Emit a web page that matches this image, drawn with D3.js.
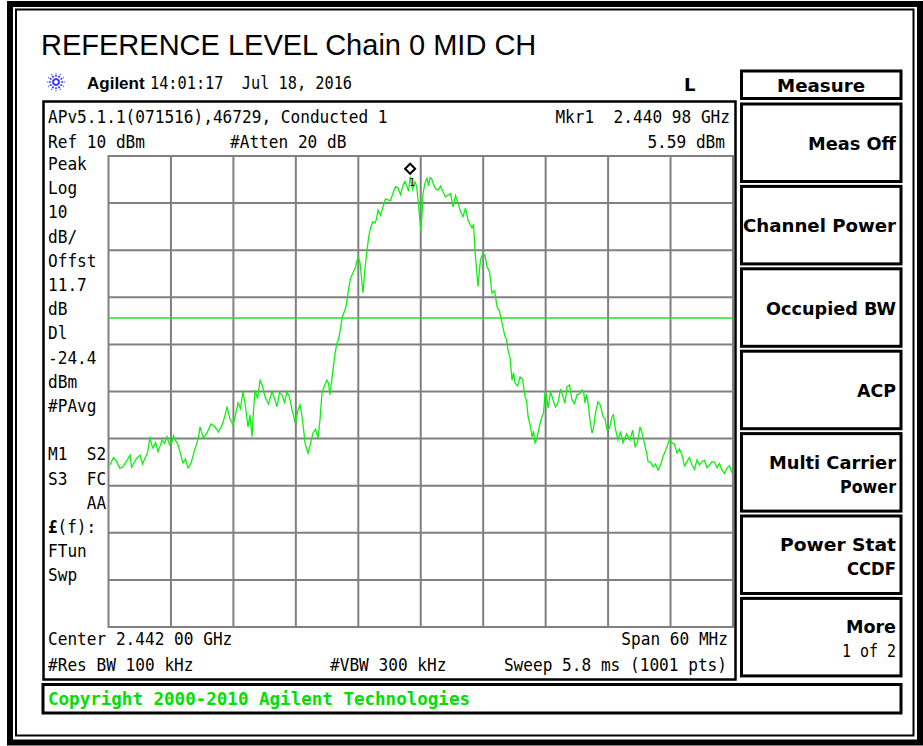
<!DOCTYPE html>
<html>
<head>
<meta charset="utf-8">
<script src="https://cdn.jsdelivr.net/npm/d3@7"></script>
<style>
  body { margin: 0; background: #fff; }
  svg { display: block; }
  .mono { font-family: 'DejaVu Sans Mono', monospace; font-size: 17px; fill: #000; }
  .key { font-family: 'DejaVu Sans', sans-serif; font-weight: bold; font-size: 18px; fill: #000; }
</style>
</head>
<body>
<svg></svg>
<script>
// trace: offset from center (MHz) and level (dBm)
const freqOffsetMHz = [
  -29.86,-29.53,-29.21,-28.91,-28.61,-28.27,-27.93,-27.79,-27.65,-27.31,
  -26.97,-26.73,-26.49,-26.25,-26.01,-25.87,-25.72,-25.48,-25.24,-25.05,
  -24.86,-24.62,-24.38,-24.14,-23.90,-23.76,-23.61,-23.37,-23.13,-22.99,
  -22.84,-22.60,-22.36,-22.17,-21.98,-21.74,-21.50,-21.36,-21.21,-20.88,
  -20.54,-20.16,-19.77,-19.43,-19.09,-18.85,-18.61,-18.33,-18.04,-17.80,
  -17.56,-17.32,-17.08,-16.84,-16.60,-16.41,-16.21,-16.07,-15.92,-15.68,
  -15.44,-15.20,-14.96,-14.63,-14.29,-14.05,-13.81,-13.57,-13.33,-13.09,
  -12.85,-12.61,-12.37,-12.23,-12.08,-11.94,-11.79,-11.60,-11.41,-11.27,
  -11.12,-10.98,-10.83,-10.59,-10.35,-10.11,-9.87,-9.68,-9.49,-9.25,
  -9.01,-8.87,-8.72,-8.58,-8.43,-8.24,-8.05,-7.91,-7.76,-7.52,
  -7.28,-7.14,-6.99,-6.75,-6.51,-6.27,-6.03,-5.84,-5.64,-5.55,
  -5.36,-5.16,-5.02,-4.87,-4.63,-4.39,-4.25,-4.11,-3.87,-3.63,
  -3.39,-3.15,-2.91,-2.67,-2.43,-2.18,-1.94,-1.70,-1.51,-1.32,
  -1.17,-1.02,-0.79,-0.55,-0.40,-0.26,-0.13,0.00,0.11,0.22,
  0.41,0.60,0.75,0.89,1.04,1.18,1.42,1.66,1.90,2.14,
  2.38,2.62,2.86,3.10,3.34,3.58,3.82,4.06,4.30,4.54,
  4.74,4.93,5.07,5.21,5.36,5.50,5.74,5.98,6.18,6.37,
  6.61,6.85,7.09,7.33,7.57,7.81,7.96,8.10,8.24,8.38,
  8.58,8.77,8.92,9.06,9.30,9.54,9.78,10.02,10.17,10.31,
  10.50,10.69,10.84,10.98,11.13,11.27,11.46,11.65,11.80,11.94,
  12.09,12.23,12.47,12.71,12.95,13.19,13.43,13.67,13.86,14.05,
  14.29,14.53,14.77,15.01,15.25,15.49,15.64,15.78,15.93,16.07,
  16.26,16.45,16.60,16.74,16.89,17.03,17.27,17.51,17.71,17.90,
  18.14,18.38,18.52,18.66,18.81,18.95,19.19,19.43,19.77,20.11,
  20.35,20.59,20.83,21.07,21.31,21.55,21.70,21.84,22.08,22.32,
  22.56,22.80,23.04,23.28,23.47,23.66,23.90,24.14,24.38,24.62,
  24.86,25.10,25.34,25.58,25.82,26.06,26.30,26.54,26.78,27.02,
  27.26,27.50,27.74,27.98,28.22,28.46,28.70,28.94,29.19,29.43,
  29.67,29.91];
const levelDbm = [
  -55.6,-54.0,-54.9,-56.3,-56.0,-54.8,-53.5,-56.1,-55.6,-54.2,
  -53.5,-55.4,-54.1,-53.0,-49.6,-51.2,-52.0,-50.8,-52.8,-51.6,
  -50.3,-51.0,-49.6,-51.3,-50.7,-49.4,-50.3,-51.0,-52.8,-54.0,
  -55.2,-54.3,-56.2,-55.7,-54.5,-52.5,-50.9,-49.8,-47.5,-49.9,
  -48.8,-46.9,-47.5,-48.6,-47.1,-45.5,-43.2,-45.8,-47.1,-45.0,
  -42.4,-43.6,-40.0,-43.2,-47.5,-45.0,-49.6,-44.0,-39.7,-41.5,
  -37.6,-38.9,-41.1,-42.7,-40.0,-41.5,-43.2,-40.2,-40.7,-42.3,
  -40.0,-41.2,-43.9,-45.0,-46.7,-45.5,-43.9,-42.8,-45.3,-47.8,
  -50.9,-52.0,-53.1,-51.0,-48.8,-48.0,-49.9,-46.0,-40.3,-38.8,
  -37.6,-38.2,-40.7,-38.0,-35.4,-32.0,-29.7,-29.0,-27.3,-24.0,
  -22.7,-21.5,-19.1,-16.0,-14.8,-13.6,-11.4,-12.6,-17.0,-19.1,
  -14.0,-10.0,-7.5,-5.7,-4.0,-4.2,-3.4,-1.5,-2.6,-0.8,
  0.9,0.7,0.5,2.1,3.5,3.2,1.8,3.8,4.6,3.5,
  2.5,5.59,2.9,4.5,3.6,0.7,-2.5,-5.7,-3.0,2.1,
  4.3,5.3,3.6,5.4,5.2,4.3,3.0,2.8,3.6,2.4,
  1.3,1.7,2.0,-0.8,1.6,0.0,-1.8,-2.9,-1.0,-3.6,
  -4.6,-5.3,-4.5,-10.0,-14.0,-17.7,-12.0,-10.6,-11.2,-13.5,
  -14.6,-19.1,-18.6,-22.0,-23.0,-25.5,-27.0,-28.4,-28.9,-31.2,
  -32.8,-37.6,-36.0,-38.2,-38.8,-36.9,-37.4,-41.1,-42.0,-45.3,
  -47.0,-49.6,-48.4,-50.9,-50.2,-48.8,-46.8,-45.3,-44.6,-40.3,
  -40.8,-43.5,-40.0,-41.8,-43.3,-42.4,-39.5,-41.1,-42.5,-39.0,
  -38.6,-41.8,-42.6,-40.7,-40.5,-39.7,-40.0,-42.4,-40.6,-42.4,
  -46.0,-48.8,-47.8,-45.3,-43.5,-42.2,-43.0,-45.3,-45.8,-48.2,
  -47.8,-45.3,-44.9,-47.5,-49.0,-50.3,-48.5,-50.9,-49.0,-50.3,
  -48.2,-51.7,-50.8,-47.5,-49.2,-51.7,-53.0,-54.9,-55.0,-56.0,
  -55.4,-56.7,-55.6,-53.8,-52.8,-51.7,-50.2,-50.9,-51.2,-53.1,
  -52.2,-53.5,-55.8,-54.9,-54.0,-55.6,-56.5,-54.5,-55.6,-54.9,
  -54.6,-56.2,-55.6,-54.9,-55.0,-56.2,-55.3,-56.7,-57.4,-56.2,
  -55.8,-57.3];

const spanMHz = 60;
const refLevel = 10;
const dbPerDiv = 10;
const displayLine = -24.4;
const markerFreq = -1.02;   // 2.440 98 GHz vs 2.442 00 center
const markerLevel = 5.59;

const leftLabels = ['Peak','Log','10','dB/','Offst','11.7','dB','Dl','-24.4','dBm','#PAvg','','M1  S2','S3  FC','    AA','£(f):','FTun','Swp'];
const softkeys = [['Meas Off'],['Channel Power'],['Occupied BW'],['ACP'],['Multi Carrier','Power'],['Power Stat','CCDF'],['More','1 of 2']];
const softkeyWidths = [[88],[153],[130],[39],[127,56],[116,49],[50,54]];

let width = 923, height = 746;
let svg = d3.select('svg').attr('width', width).attr('height', height);

let x = d3.scaleLinear().domain([-spanMHz/2, spanMHz/2]).range([108.5, 733]);
let y = d3.scaleLinear().domain([refLevel, refLevel - 10*dbPerDiv]).range([156, 627]);

// frame: thick outer + thin inner
svg.append('rect').attr('x', 10).attr('y', 4).attr('width', 910).attr('height', 738.5)
  .attr('fill', 'none').attr('stroke', '#000').attr('stroke-width', 6);
svg.append('rect').attr('x', 16).attr('y', 9.5).attr('width', 897.5).attr('height', 726)
  .attr('fill', 'none').attr('stroke', '#000').attr('stroke-width', 2);

svg.append('text').attr('x', 41).attr('y', 55)
  .style('font-family', "'Liberation Sans', Arial, sans-serif").style('font-size', '29px')
  .text('REFERENCE LEVEL Chain 0 MID CH');

// agilent spark
let spark = svg.append('g').attr('transform', 'translate(56,82)');
d3.range(12).forEach(i => {
  let a = i * Math.PI / 6;
  spark.append('line')
    .attr('x1', Math.cos(a)*2).attr('y1', Math.sin(a)*2)
    .attr('x2', Math.cos(a)*9).attr('y2', Math.sin(a)*9)
    .attr('stroke', '#2b2bff').attr('stroke-width', 1.6)
    .attr('stroke-dasharray', '2,1.2');
});

svg.append('text').attr('x', 87).attr('y', 89)
  .style('font-family', "'Liberation Sans', Arial, sans-serif").style('font-weight', 'bold')
  .style('font-size', '17px').text('Agilent');

function mono(str, px, py, anchor, len) {
  let t = svg.append('text').attr('class', 'mono')
    .attr('x', px).attr('y', py)
    .attr('text-anchor', anchor || 'start')
    .attr('xml:space', 'preserve')
    .text(str);
  t.attr('textLength', len || str.length * 9.7).attr('lengthAdjust', 'spacingAndGlyphs');
  return t;
}

mono('14:01:17  Jul 18, 2016', 150, 89, 'start', 202);
svg.append('text').attr('x', 684).attr('y', 91)
  .style('font-family', "'DejaVu Sans', sans-serif").style('font-weight', 'bold')
  .style('font-size', '18px').text('L');

// data panel
svg.append('rect').attr('x', 43.5).attr('y', 101.5).attr('width', 692).attr('height', 578)
  .attr('fill', 'none').attr('stroke', '#000').attr('stroke-width', 2.5);

mono('APv5.1.1(071516),46729, Conducted 1', 48, 123);
mono('Mkr1  2.440 98 GHz', 730, 123, 'end');
mono('Ref 10 dBm', 48, 148);
mono('#Atten 20 dB', 230, 148);
mono('5.59 dBm', 725, 148, 'end');

leftLabels.forEach((s, i) => {
  if (!s) return;
  if (s === '£(f):') {
    let t = mono('', 48, 170 + i*24.2, 'start', 48);
    t.append('tspan').style('font-weight', 'bold').text('£');
    t.append('tspan').text('(f):');
  } else {
    mono(s, 48, 170 + i*24.2);
  }
});

mono('Center 2.442 00 GHz', 48, 645);
mono('Span 60 MHz', 728, 645, 'end');
mono('#Res BW 100 kHz', 48, 671);
mono('#VBW 300 kHz', 330, 671);
mono('Sweep 5.8 ms (1001 pts)', 727, 671, 'end');

// graticule
let grid = svg.append('g').attr('stroke', '#808080').attr('stroke-width', 2);
grid.selectAll('line.v').data(d3.range(-spanMHz/2 + 6, spanMHz/2, 6)).enter()
  .append('line').attr('class', 'v')
  .attr('x1', d => x(d)).attr('x2', d => x(d)).attr('y1', y.range()[0]).attr('y2', y.range()[1]);
grid.selectAll('line.h').data(d3.range(refLevel - dbPerDiv, refLevel - 10*dbPerDiv, -dbPerDiv)).enter()
  .append('line').attr('class', 'h')
  .attr('y1', d => y(d)).attr('y2', d => y(d)).attr('x1', x.range()[0]).attr('x2', x.range()[1]);
grid.append('rect').attr('x', x.range()[0]).attr('y', y.range()[0])
  .attr('width', x.range()[1] - x.range()[0]).attr('height', y.range()[1] - y.range()[0])
  .attr('fill', 'none');

// display line
svg.append('line').attr('x1', x.range()[0]).attr('x2', x.range()[1])
  .attr('y1', y(displayLine)).attr('y2', y(displayLine))
  .attr('stroke', '#22e022').attr('stroke-width', 1.4);

// trace
let pts = d3.zip(freqOffsetMHz, levelDbm);
svg.append('path').datum(pts)
  .attr('d', d3.line().x(d => x(d[0])).y(d => y(d[1])))
  .attr('fill', 'none').attr('stroke', '#10f010').attr('stroke-width', 1.3);

// marker
let mx = x(markerFreq), my = y(markerLevel) - 8;
svg.append('path')
  .attr('d', `M${mx},${my-5} L${mx+5},${my} L${mx},${my+5} L${mx-5},${my} Z`)
  .attr('fill', '#fff').attr('stroke', '#000').attr('stroke-width', 2);
svg.append('text').attr('x', mx - 1).attr('y', my + 17)
  .style('font-family', "'DejaVu Sans Mono', monospace").style('font-size', '10px').text('1');

// softkeys
svg.append('rect').attr('x', 741.5).attr('y', 71).attr('width', 159.5).attr('height', 27.5)
  .attr('fill', 'none').attr('stroke', '#000').attr('stroke-width', 3);
svg.append('text').attr('class', 'key').attr('x', 821).attr('y', 92)
  .attr('text-anchor', 'middle').attr('textLength', 88).attr('lengthAdjust', 'spacingAndGlyphs')
  .text('Measure');

softkeys.forEach((lines, i) => {
  let top = 104 + i*82.4, mid = top + 39;
  svg.append('rect').attr('x', 741.5).attr('y', top).attr('width', 159.5).attr('height', 77.5)
    .attr('fill', 'none').attr('stroke', '#000').attr('stroke-width', 3);
  lines.forEach((s, j) => {
    let by = lines.length === 1 ? mid + 7 : mid - 4 + j*24;
    let plain = s === '1 of 2';
    svg.append('text').attr('class', plain ? 'mono' : 'key')
      .attr('x', 896).attr('y', by).attr('text-anchor', 'end')
      .attr('textLength', softkeyWidths[i][j]).attr('lengthAdjust', 'spacingAndGlyphs')
      .text(s);
  });
});

// copyright bar
svg.append('rect').attr('x', 43).attr('y', 684.5).attr('width', 858).attr('height', 28.5)
  .attr('fill', 'none').attr('stroke', '#000').attr('stroke-width', 3);
svg.append('text').attr('x', 48).attr('y', 705)
  .style('font-family', "'DejaVu Sans Mono', monospace").style('font-weight', 'bold')
  .style('font-size', '17px').attr('fill', '#00e000')
  .attr('textLength', 422).attr('lengthAdjust', 'spacingAndGlyphs')
  .text('Copyright 2000-2010 Agilent Technologies');
</script>
</body>
</html>
